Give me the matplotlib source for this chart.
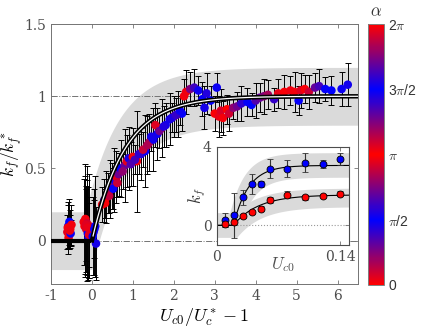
import numpy as np
import matplotlib
matplotlib.use("Agg")
import matplotlib.pyplot as plt
from matplotlib.colors import LinearSegmentedColormap

plt.rcParams["mathtext.fontset"] = "cm"
plt.rcParams["font.family"] = ["Liberation Sans", "DejaVu Sans"]

# ── main data: x = Uc0/Uc* - 1, y = kf/kf*, err, alpha ─────────────────────────
x_main = [-0.60, -0.58, -0.57, -0.56, -0.55, -0.53, -0.52, -0.50, -0.59, -0.54,
          -0.20, -0.18, -0.16, -0.14, -0.12, -0.10, -0.08, -0.06, 0.04, 0.08, 0.10,
          -0.15, -0.11, -0.07, 0.02, 0.06,
          0.25, 0.30, 0.35, 0.40, 0.45, 0.50, 0.55, 0.60, 0.65, 0.70, 0.80, 0.85,
          0.90, 1.00, 1.10, 1.20, 1.30, 1.40, 1.50, 1.55, 1.60, 1.70, 1.80, 1.90,
          2.00, 2.10, 2.20,
          0.32, 0.42, 0.52, 0.62, 0.75, 0.95, 1.05, 1.15, 1.25, 1.35, 1.45, 1.65,
          1.75, 1.95, 2.05, 2.15,
          2.25, 2.30, 2.40, 2.50, 2.60, 2.70, 2.75, 2.80, 2.90, 3.00, 3.05, 3.10,
          3.15, 3.20, 3.30, 3.35, 3.45, 3.55, 3.65, 3.80, 3.90, 4.00, 4.10, 4.20,
          4.30, 4.45, 4.55, 4.70, 4.85, 4.95, 5.05, 5.10, 5.20, 5.30, 5.45, 5.55,
          5.70, 5.85, 6.10, 6.25]
y_main = [0.06, 0.10, 0.02, 0.04, 0.13, 0.08, 0.05, 0.11, 0.09, 0.07,
          0.13, 0.10, 0.15, 0.08, 0.12, 0.05, 0.02, 0.10, 0.06, 0.10, -0.02,
          0.11, 0.09, 0.04, 0.03, 0.08,
          0.25, 0.28, 0.30, 0.33, 0.36, 0.38, 0.42, 0.44, 0.46, 0.50, 0.52, 0.55,
          0.57, 0.58, 0.55, 0.60, 0.62, 0.68, 0.70, 0.80, 0.74, 0.78, 0.80, 0.84,
          0.86, 0.875, 0.88,
          0.26, 0.31, 0.36, 0.40, 0.48, 0.53, 0.56, 0.60, 0.63, 0.66, 0.72, 0.76,
          0.79, 0.85, 0.87, 0.90,
          1.00, 1.03, 1.05, 1.06, 1.04, 0.98, 0.92, 1.02, 0.97, 0.88, 1.06, 0.86,
          0.90, 0.85, 0.91, 0.88, 0.92, 0.93, 0.95, 0.96, 0.94, 0.97, 0.99, 1.00,
          1.01, 0.98, 1.02, 1.03, 1.04, 1.03, 0.97, 1.04, 1.05, 1.03, 1.06, 1.07,
          1.05, 1.04, 1.05, 1.08]
err_main = [0.12, 0.15, 0.08, 0.10, 0.16, 0.13, 0.09, 0.14, 0.18, 0.11,
            0.30, 0.35, 0.38, 0.30, 0.40, 0.32, 0.28, 0.36, 0.30, 0.35, 0.25,
            0.25, 0.33, 0.22, 0.27, 0.20,
            0.12, 0.15, 0.18, 0.14, 0.20, 0.16, 0.22, 0.18, 0.15, 0.20, 0.25, 0.18,
            0.22, 0.20, 0.35, 0.18, 0.25, 0.20, 0.22, 0.15, 0.18, 0.20, 0.15, 0.18,
            0.14, 0.16, 0.12,
            0.10, 0.12, 0.14, 0.10, 0.12, 0.15, 0.10, 0.14, 0.12, 0.20, 0.10, 0.12,
            0.14, 0.10, 0.12, 0.10,
            0.12, 0.15, 0.12, 0.13, 0.10, 0.12, 0.15, 0.14, 0.10, 0.12, 0.10, 0.14,
            0.15, 0.12, 0.10, 0.12, 0.08, 0.10, 0.12, 0.10, 0.08, 0.12, 0.10, 0.12,
            0.10, 0.08, 0.10, 0.12, 0.10, 0.14, 0.10, 0.12, 0.10, 0.12, 0.10, 0.12,
            0.08, 0.10, 0.12, 0.15]
alpha_main = [0.2, 1.6, 3.0, 3.1, 4.7, 0.0, 1.5, 6.2, 3.2, 0.1,
              0.1, 3.1, 6.2, 2.9, 0.3, 1.6, 4.7, 3.3, 1.5, 4.6, 1.7,
              0.2, 3.0, 6.1, 4.7, 1.6,
              0.1, 1.2, 3.1, 4.3, 0.6, 2.4, 1.5, 3.0, 0.9, 4.7, 2.2, 6.1,
              1.4, 3.2, 0.1, 4.5, 1.6, 2.6, 4.8, 0.2, 1.5, 3.1, 4.6, 1.7,
              2.5, 0.8, 1.6,
              3.1, 0.4, 1.6, 2.8, 0.7, 4.2, 2.0, 1.3, 3.5, 0.5, 1.7, 2.3,
              4.9, 1.4, 1.9, 1.5,
              6.2, 0.1, 0.8, 1.2, 1.5, 1.6, 1.7, 4.5, 4.7, 3.1, 1.5, 3.0,
              2.9, 3.2, 0.0, 0.3, 0.7, 0.9, 1.3, 1.6, 4.7, 4.2, 2.2, 2.4,
              2.6, 1.9, 3.0, 3.1, 0.1, 6.2, 1.6, 0.2, 3.1, 2.8, 2.2, 2.0,
              1.6, 4.7, 1.5, 4.6]

# ── inset data: Uc0, kf ───────────────────────────────────────────────────────
x_in = [0.01, 0.02, 0.03, 0.04, 0.05, 0.06, 0.08, 0.10, 0.12, 0.14]
kf_blue = [0.26, 0.51, 1.42, 2.12, 2.10, 2.89, 2.89, 3.19, 3.14, 3.38]
err_blue = [0.35, 1.15, 0.40, 0.50, 0.17, 0.50, 0.45, 0.50, 0.20, 0.30]
kf_red = [0.09, 0.17, 0.46, 0.68, 0.84, 1.27, 1.57, 1.42, 1.49, 1.61]
err_red = [0.15, 0.15, 0.10, 0.12, 0.12, 0.15, 0.18, 0.15, 0.10, 0.12]

# fit parameters (model curves)
tau_main = 0.8
fit_blue = (3.05, 0.019, 0.017)   # amplitude, onset, scale
fit_red = (1.55, 0.019, 0.028)

cmap = LinearSegmentedColormap.from_list("alpha", ["#ff0000", "#0000ff", "#ff0000", "#0000ff", "#ff0000"])
grey = "#dadada"
tcol = "0.3"

fig = plt.figure(figsize=(4.43, 3.32), dpi=100)
ax = fig.add_axes([0.1151, 0.1446, 0.693, 0.783])

xx = np.linspace(-1, 6.5, 600)
f = np.where(xx > 0, 1 - np.exp(-np.clip(xx, 0, None) / tau_main), 0)
fu = np.where(xx + 0.15 > 0, 1 - np.exp(-np.clip(xx + 0.15, 0, None) / tau_main), 0)
ax.fill_between(xx, fu + 0.2, f - 0.2, color=grey, lw=0, zorder=0)
ax.axhline(1, color="0.45", ls="-.", lw=0.7, zorder=1)
ax.axhline(0, color="0.45", ls="-.", lw=0.7, zorder=1)

ax.errorbar(x_main, y_main, yerr=err_main, fmt="none", ecolor="k", elinewidth=0.7,
            capsize=2.5, capthick=0.7, zorder=2)
sc = ax.scatter(x_main, y_main, c=alpha_main, cmap=cmap, vmin=0, vmax=2 * np.pi,
                s=38, edgecolors="none", zorder=3)

ax.plot(xx[xx <= 0], f[xx <= 0], color="k", lw=3, zorder=4, solid_capstyle="butt")
ax.plot(xx[xx >= 0], f[xx >= 0], color="k", lw=3.2, zorder=4)
ax.plot(xx[xx >= 0.02], f[xx >= 0.02], color="white", lw=0.9, zorder=5)

ax.set_xlim(-1, 6.5)
ax.set_ylim(-0.3, 1.5)
ax.set_xticks(range(-1, 7))
ax.set_xticklabels([str(v) for v in range(-1, 7)])
ax.set_yticks([0, 0.5, 1, 1.5])
ax.set_yticklabels(["0", "0.5", "1", "1.5"])
for lab in ax.get_xticklabels() + ax.get_yticklabels():
    lab.set_family("DejaVu Serif")
ax.tick_params(direction="in", top=True, right=True, labelsize=10, colors="0.45",
               labelcolor=tcol, length=3, width=0.6)
for s in ax.spines.values():
    s.set_color("0.45"); s.set_linewidth(0.7)
ax.set_xlabel(r"$U_{c0}/U_c^* - 1$", fontsize=13, labelpad=2)
ax.set_ylabel(r"$k_f/k_f^*$", fontsize=12.5)
ax.yaxis.set_label_coords(-0.088, 0.5)

# colorbar
cax = fig.add_axes([0.8307, 0.1416, 0.0361, 0.786])
cb = fig.colorbar(sc, cax=cax, ticks=[0, np.pi / 2, np.pi, 3 * np.pi / 2, 2 * np.pi])
cb.ax.set_yticklabels(["0", r"$\pi$/2", r"$\pi$", r"3$\pi$/2", r"2$\pi$"])
cb.ax.tick_params(length=0, labelsize=10, labelcolor="0.2", pad=3)
cb.outline.set_edgecolor("0.5")
cb.outline.set_linewidth(0.7)
fig.text(0.849, 0.965, r"$\alpha$", ha="center", va="center", fontsize=12, color="0.2")

# inset
ins = fig.add_axes([0.489, 0.262, 0.299, 0.296])
xi = np.linspace(0, 0.15, 300)

def fit(p, x):
    A, x0, t = p
    return np.where(x > x0, A * (1 - np.exp(-np.clip(x - x0, 0, None) / t)), 0)

xs = np.clip(xi + 0.004, 0, None)
ins.fill_between(xi, fit(fit_blue, xs) + 0.65, fit(fit_blue, xi - 0.004) - 0.6, color=grey, lw=0, zorder=0)
ins.fill_between(xi, fit(fit_red, xs) + 0.35, fit(fit_red, xi - 0.004) - 0.6, color=grey, lw=0, zorder=0)
ins.plot([0.02, 0.15], [0, 0], color="0.6", ls=":", lw=0.8, zorder=1)
ins.plot(xi, fit(fit_blue, xi), color="k", lw=0.8, zorder=2)
ins.plot(xi, fit(fit_red, xi), color="k", lw=0.8, zorder=2)
ins.errorbar(x_in, kf_blue, yerr=err_blue, fmt="o", color="#0000ff", mec="k", mew=0.6,
             ms=5, ecolor="0.2", elinewidth=0.8, capsize=2.5, capthick=0.8, zorder=3)
ins.errorbar(x_in, kf_red, yerr=err_red, fmt="o", color="#ff0000", mec="k", mew=0.6,
             ms=5, ecolor="0.2", elinewidth=0.8, capsize=2.5, capthick=0.8, zorder=3)
ins.set_xlim(0, 0.15)
ins.set_ylim(-1, 4)
ins.set_xticks([0, 0.14])
ins.set_xticklabels(["0", "0.14"])
ins.set_yticks([0, 4])
ins.set_yticklabels(["0", "4"])
for lab in ins.get_xticklabels() + ins.get_yticklabels():
    lab.set_family("DejaVu Serif")
ins.tick_params(direction="in", top=True, right=True, labelsize=10, colors="0.45",
                labelcolor=tcol, length=3, width=0.6)
for s in ins.spines.values():
    s.set_color("0.3"); s.set_linewidth(0.8)
ins.set_xlabel(r"$U_{c0}$", fontsize=12, labelpad=-6, color="0.3")
ins.set_ylabel(r"$k_f$", fontsize=12, labelpad=-4, color="0.2")

fig.savefig("out.png", dpi=100)
